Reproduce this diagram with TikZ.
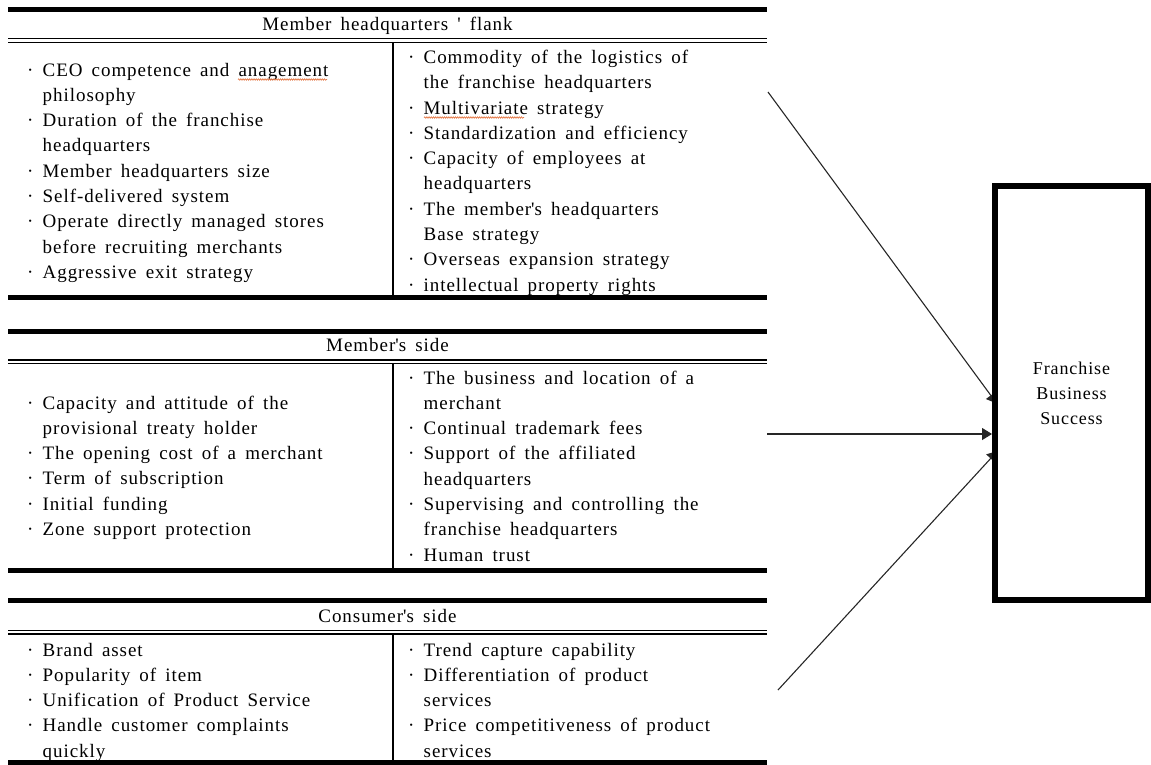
\documentclass[tikz,border=0pt]{standalone}
\usepackage{fontspec}
\setmainfont[LetterSpace=5,WordSpace=1.6,Ligatures=CommonOff]{Liberation Serif}
\usetikzlibrary{arrows.meta,backgrounds,decorations.pathmorphing}
\newcommand{\cnt}{\hspace*{15.5pt}}
\newcommand{\sq}{\textquotesingle}
\definecolor{spellred}{RGB}{228,120,70}
\begin{document}
\begin{tikzpicture}[x=1pt,y=-1pt,
  thickrule/.style={line width=5pt},
  thinrule/.style={line width=1.1pt},
  colrule/.style={line width=1.3pt},
  cell/.style={anchor=base west,inner sep=0pt,align=left,
    font=\fontsize{19pt}{25.3pt}\selectfont},
  head/.style={inner sep=0pt,font=\fontsize{19pt}{25.3pt}\selectfont},
  arr/.style={line width=1.1pt,draw=black!85,-{Triangle[length=10pt,width=12pt]}},
  squig/.style={draw=spellred,line width=0.7pt,
    decorate,decoration={snake,segment length=2.2pt,amplitude=0.7pt}},
  goalbox/.style={draw,line width=6pt,fill=white,minimum width=153pt,
    minimum height=414pt,inner sep=0pt,align=center,
    font=\fontsize{18pt}{25pt}\selectfont}]
\useasboundingbox (0,0) rectangle (1151,764);

% ---------- Table 1
\draw[thickrule] (8,9.5) -- (767,9.5);
\draw[thinrule] (8,38.5) -- (767,38.5);
\draw[thinrule] (8,42.5) -- (767,42.5);
\draw[colrule] (393,43) -- (393,295);
\draw[thickrule] (8,297.5) -- (767,297.5);
\node[head] (h1) at (387.5,26) {Member headquarters \sq{} flank};
% base anchor = baseline of the last line
\node[cell] (c11) at (27,278.4) {· CEO competence and anagement\\
\cnt philosophy\\
· Duration of the franchise\\
\cnt headquarters\\
· Member headquarters size\\
· Self-delivered system\\
· Operate directly managed stores\\
\cnt before recruiting merchants\\
· Aggressive exit strategy};
\node[cell] (c12) at (408,291.1) {· Commodity of the logistics of\\
\cnt the franchise headquarters\\
· Multivariate strategy\\
· Standardization and efficiency\\
· Capacity of employees at\\
\cnt headquarters\\
· The member\sq s headquarters\\
\cnt Base strategy\\
· Overseas expansion strategy\\
· intellectual property rights};
% spell-check underlines
\draw[squig] (238,79.5) -- (327,79.5);
\draw[squig] (424,117.5) -- (524,117.5);

% ---------- Table 2
\draw[thickrule] (8,331.5) -- (767,331.5);
\draw[thinrule] (8,360) -- (767,360);
\draw[thinrule] (8,363.5) -- (767,363.5);
\draw[colrule] (393,364) -- (393,568);
\draw[thickrule] (8,570.5) -- (767,570.5);
\node[head] (h2) at (387.5,345) {Member\sq s side};
\node[cell] (c21) at (27,535.5) {· Capacity and attitude of the\\
\cnt provisional treaty holder\\
· The opening cost of a merchant\\
· Term of subscription\\
· Initial funding\\
· Zone support protection};
\node[cell] (c22) at (408,561.1) {· The business and location of a\\
\cnt merchant\\
· Continual trademark fees\\
· Support of the affiliated\\
\cnt headquarters\\
· Supervising and controlling the\\
\cnt franchise headquarters\\
· Human trust};

% ---------- Table 3
\draw[thickrule] (8,600.5) -- (767,600.5);
\draw[thinrule] (8,630.7) -- (767,630.7);
\draw[thinrule] (8,634) -- (767,634);
\draw[colrule] (393,634) -- (393,760);
\draw[thickrule] (8,762) -- (767,762);
\node[head] (h3) at (387.5,616) {Consumer\sq s side};
\node[cell] (c31) at (27,757.2) {· Brand asset\\
· Popularity of item\\
· Unification of Product Service\\
· Handle customer complaints\\
\cnt quickly};
\node[cell] (c32) at (408,757.2) {· Trend capture capability\\
· Differentiation of product\\
\cnt services\\
· Price competitiveness of product\\
\cnt services};

% ---------- Goal box and arrows
\node[goalbox] (goal) at (1071.5,393) {Franchise\\Business\\Success};
\coordinate (s1) at (768,92);
\coordinate (s2) at (767,434);
\coordinate (s3) at (778,690);
\begin{scope}[on background layer]
\draw[arr,shorten >=-8pt] (s1) -- (goal.west |- 0,397);
\draw[arr,shorten >=-8pt] (s3) -- (goal.west |- 0,457);
\end{scope}
\draw[arr] (s2) -- (goal.west |- s2);
\end{tikzpicture}
\end{document}
